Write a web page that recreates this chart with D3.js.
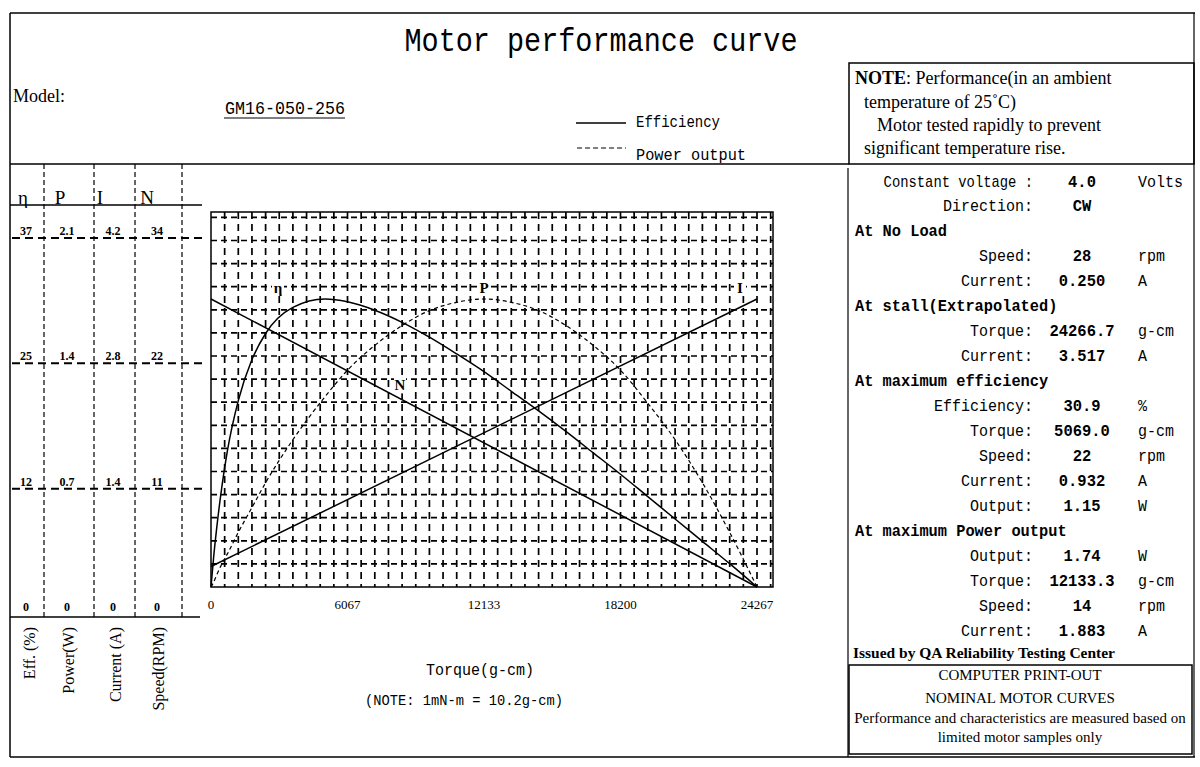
<!DOCTYPE html>
<html><head><meta charset="utf-8">
<script src="https://cdn.jsdelivr.net/npm/d3@7/dist/d3.min.js"></script>
<style>body{margin:0;background:#fff} svg{display:block}</style>
</head><body><svg id="c" width="1200" height="767"></svg>
<script>
// ---------------- DATA ----------------
const torque     = [0,121,243,485,728,1213,1820,2427,3640,5069,6067,7280,8493,9707,10920,12133,13347,14560,15773,16987,18200,19413,20627,21840,23053,24267];
const efficiency = [0,3.3,6.1,10.8,14.6,20.0,24.4,27.2,30.0,30.9,30.6,29.7,28.4,26.8,25.0,23.1,21.0,18.9,16.7,14.4,12.1,9.7,7.3,4.9,2.5,0];
const powerOut   = [0,0.03,0.07,0.14,0.20,0.33,0.48,0.63,0.89,1.15,1.31,1.46,1.58,1.67,1.72,1.74,1.72,1.67,1.58,1.46,1.31,1.11,0.89,0.63,0.33,0];
const lineTorque = [0,24267];
const speed      = [28,0];
const current    = [0.25,3.517];
const xTicks     = [0,6067,12133,18200,24267];

const curveLabels  = ["η","P","N","I"];
const labelTorque  = [2978,12133,8400,23511];
const labelValue   = [32.1,1.806,19.6,3.651];

const axisHeaders = ["η","P","I","N"];
const effTicks     = ["37","25","12","0"];
const powerTicks   = ["2.1","1.4","0.7","0"];
const currentTicks = ["4.2","2.8","1.4","0"];
const speedTicks   = ["34","22","11","0"];
const axisTitles   = ["Eff. (%)","Power(W)","Current (A)","Speed(RPM)"];

const specLabel = ["Constant voltage :","Direction:","At No Load","Speed:","Current:","At stall(Extrapolated)","Torque:","Current:","At maximum efficiency","Efficiency:","Torque:","Speed:","Current:","Output:","At maximum Power output","Output:","Torque:","Speed:","Current:"];
const specValue = ["4.0","CW","","28","0.250","","24266.7","3.517","","30.9","5069.0","22","0.932","1.15","","1.74","12133.3","14","1.883"];
const specUnit  = ["Volts","","","rpm","A","","g-cm","A","","%","g-cm","rpm","A","W","","W","g-cm","rpm","A"];

const titleText = "Motor performance curve";
const modelName = "GM16-050-256";
const noteLines = ["Performance(in an ambient","temperature of 25˚C)","Motor tested rapidly to prevent","significant temperature rise."];
const boxLines  = ["COMPUTER PRINT-OUT","NOMINAL MOTOR CURVES","Performance and characteristics are measured based on","limited motor samples only"];

// ---------------- DRAW ----------------
const svg = d3.select("#c");
const MONO = "'Liberation Mono', 'DejaVu Sans Mono', monospace";
const SERIF = "'Liberation Serif', 'DejaVu Serif', serif";

function line(x1,y1,x2,y2,w,dash){
  const l = svg.append("line").attr("x1",x1).attr("y1",y1).attr("x2",x2).attr("y2",y2)
    .attr("stroke","#000").attr("stroke-width",w||1);
  if(dash) l.attr("stroke-dasharray",dash);
  return l;
}
function text(x,y,s,size,fam,opt){
  opt = opt||{};
  const t = svg.append("text").attr("x",x).attr("y",y).text(s)
    .attr("font-size",size).attr("font-family",fam).attr("fill","#000")
    .attr("text-anchor",opt.anchor||"start").attr("dominant-baseline","central");
  if(opt.bold) t.attr("font-weight","bold");
  if(opt.len) t.attr("textLength",opt.len).attr("lengthAdjust","spacingAndGlyphs");
  return t;
}

// frame
line(10,13,1195,13,1.5);
line(10,13,10,757,1.5);
line(10,757,1195,757,1.5);
line(1194,13,1194,757,1.2);
line(10,164,849,164,1.5);
svg.append("rect").attr("x",849).attr("y",63).attr("width",345).attr("height",101)
  .attr("fill","none").attr("stroke","#000").attr("stroke-width",1.5);
line(848,168,848,757,1.2);

// title
text(601,42,titleText,34,MONO,{anchor:"middle",len:393});
text(13,96,"Model:",18,SERIF);
text(285,109,modelName,18,MONO,{anchor:"middle",len:120});
line(224,118,345,118,1.2);

// legend
line(576,123,626,123,1.5);
text(636,123,"Efficiency",16,MONO,{len:84});
line(577,148,626,148,1.2,"5,3");
text(636,156,"Power output",16,MONO,{len:110});

// note box
const nt = text(855,78,"",18,SERIF);
nt.append("tspan").attr("font-weight","bold").text("NOTE");
nt.append("tspan").text(":  " + noteLines[0]);
text(864,102,noteLines[1],18,SERIF);
text(877,125,noteLines[2],18,SERIF);
text(864,148,noteLines[3],18,SERIF);

// ---------- left axis panel ----------
const colX = [44,94,135,182];
colX.forEach(cx=>line(cx,164,cx,617,1.2,"5,3"));
line(10,205,202,205,1.5);
line(10,617,200,617,1.5);
const headX = [23,60,100,147];
axisHeaders.forEach((h,i)=>text(headX[i],197,h,19,SERIF,{anchor:"middle"}));
const yLeft = d3.scalePoint().domain(d3.range(effTicks.length)).range([238,614]);
[0,1,2].forEach(i=>line(12,yLeft(i),202,yLeft(i),2,"8,5"));
const tickColX = [26,67,113,157];
const tickSets = [effTicks,powerTicks,currentTicks,speedTicks];
tickSets.forEach((set,c)=>set.forEach((v,i)=>{
  text(tickColX[c], yLeft(i)-7, v, 12, SERIF, {anchor:"middle",bold:true});
}));
const titleX = [29,68,115,158];
axisTitles.forEach((t,i)=>{
  svg.append("text").attr("transform",`translate(${titleX[i]},627) rotate(-90)`)
    .attr("text-anchor","end").attr("dominant-baseline","central")
    .attr("font-size",16).attr("font-family",SERIF).text(t);
});

// ---------- plot ----------
const plotTop=212, plotBottom=587, plotRight=773, peakY=299;
const x = d3.scaleLinear().domain([0,24267]).range([211,757]);
const yEff = d3.scaleLinear().domain([0,d3.max(efficiency)]).range([plotBottom,peakY]);
const yPow = d3.scaleLinear().domain([0,d3.max(powerOut)]).range([plotBottom,peakY]);
const ySpd = d3.scaleLinear().domain([0,d3.max(speed)]).range([plotBottom,peakY]);
const yCur = d3.scaleLinear().domain([0,d3.max(current)]).range([plotBottom,peakY]);

const step = 24267/40;
const grid = svg.append("g");
d3.range(1,42).map(k=>x(k*step)).filter(v=>v<plotRight-1).forEach(v=>{
  grid.append("line").attr("x1",v).attr("x2",v).attr("y1",plotTop).attr("y2",plotBottom)
   .attr("stroke","#000").attr("stroke-width",1.7).attr("stroke-dasharray","7,5");
});
d3.range(1,17).map(k=>plotBottom-k*23.1).forEach(v=>{
  grid.append("line").attr("x1",x(0)).attr("x2",plotRight).attr("y1",v).attr("y2",v)
   .attr("stroke","#000").attr("stroke-width",1.7).attr("stroke-dasharray","6,4");
});
svg.append("rect").attr("x",x(0)).attr("y",plotTop).attr("width",plotRight-x(0)).attr("height",plotBottom-plotTop)
  .attr("fill","none").attr("stroke","#000").attr("stroke-width",1.5);

// x ticks
xTicks.forEach(t=>text(x(t),604,String(t),13,SERIF,{anchor:"middle"}));

const effPts = torque.map((t,i)=>[t,efficiency[i]]);
const powPts = torque.map((t,i)=>[t,powerOut[i]]);
svg.append("path").attr("d",d3.line().x(d=>x(d[0])).y(d=>yEff(d[1])).curve(d3.curveMonotoneX)(effPts))
  .attr("fill","none").attr("stroke","#000").attr("stroke-width",1.5);
svg.append("path").attr("d",d3.line().x(d=>x(d[0])).y(d=>yPow(d[1])).curve(d3.curveMonotoneX)(powPts))
  .attr("fill","none").attr("stroke","#000").attr("stroke-width",1.2).attr("stroke-dasharray","4,3");
svg.append("path").attr("d",d3.line().x(d=>x(d[0])).y(d=>ySpd(d[1]))(lineTorque.map((t,i)=>[t,speed[i]])))
  .attr("fill","none").attr("stroke","#000").attr("stroke-width",1.5);
svg.append("path").attr("d",d3.line().x(d=>x(d[0])).y(d=>yCur(d[1]))(lineTorque.map((t,i)=>[t,current[i]])))
  .attr("fill","none").attr("stroke","#000").attr("stroke-width",1.5);

const labelScales = [yEff,yPow,ySpd,yCur];
curveLabels.forEach((l,i)=>{
  svg.append("rect").attr("x",x(labelTorque[i])-6).attr("y",labelScales[i](labelValue[i])-8).attr("width",12).attr("height",16).attr("fill","#fff");
  text(x(labelTorque[i]),labelScales[i](labelValue[i]),l,15,SERIF,{anchor:"middle",bold:true});
});

// x axis title
text(480,671,"Torque(g-cm)",16,MONO,{anchor:"middle",len:108});
text(464,701,"(NOTE: 1mN-m = 10.2g-cm)",15,MONO,{anchor:"middle",len:198});

// ---------- right panel ----------
const yRow = d3.scalePoint().domain(d3.range(specLabel.length)).range([182,631]);
specLabel.forEach((l,i)=>{
  const y = yRow(i);
  if(!specValue[i] && !specUnit[i]){
    text(855,y,l,17,MONO,{bold:true,len:l.length*9.2});
  } else {
    text(1033,y,l,17,MONO,{anchor:"end",len:l.length*(i===0?8.3:9.0)});
    text(1082,y,specValue[i],17,MONO,{anchor:"middle",bold:true,len:specValue[i].length*9.3});
    text(1138,y,specUnit[i],17,MONO,{len:specUnit[i].length*9.0});
  }
});
text(853,653,"Issued by QA Reliability Testing Center",15,SERIF,{bold:true,len:262});
svg.append("rect").attr("x",849).attr("y",665).attr("width",343).attr("height",89)
  .attr("fill","none").attr("stroke","#000").attr("stroke-width",1.5);
const boxY = [675,698,718,737];
boxLines.forEach((b,i)=>text(1020,boxY[i],b,15,SERIF,{anchor:"middle"}));
</script></body></html>
